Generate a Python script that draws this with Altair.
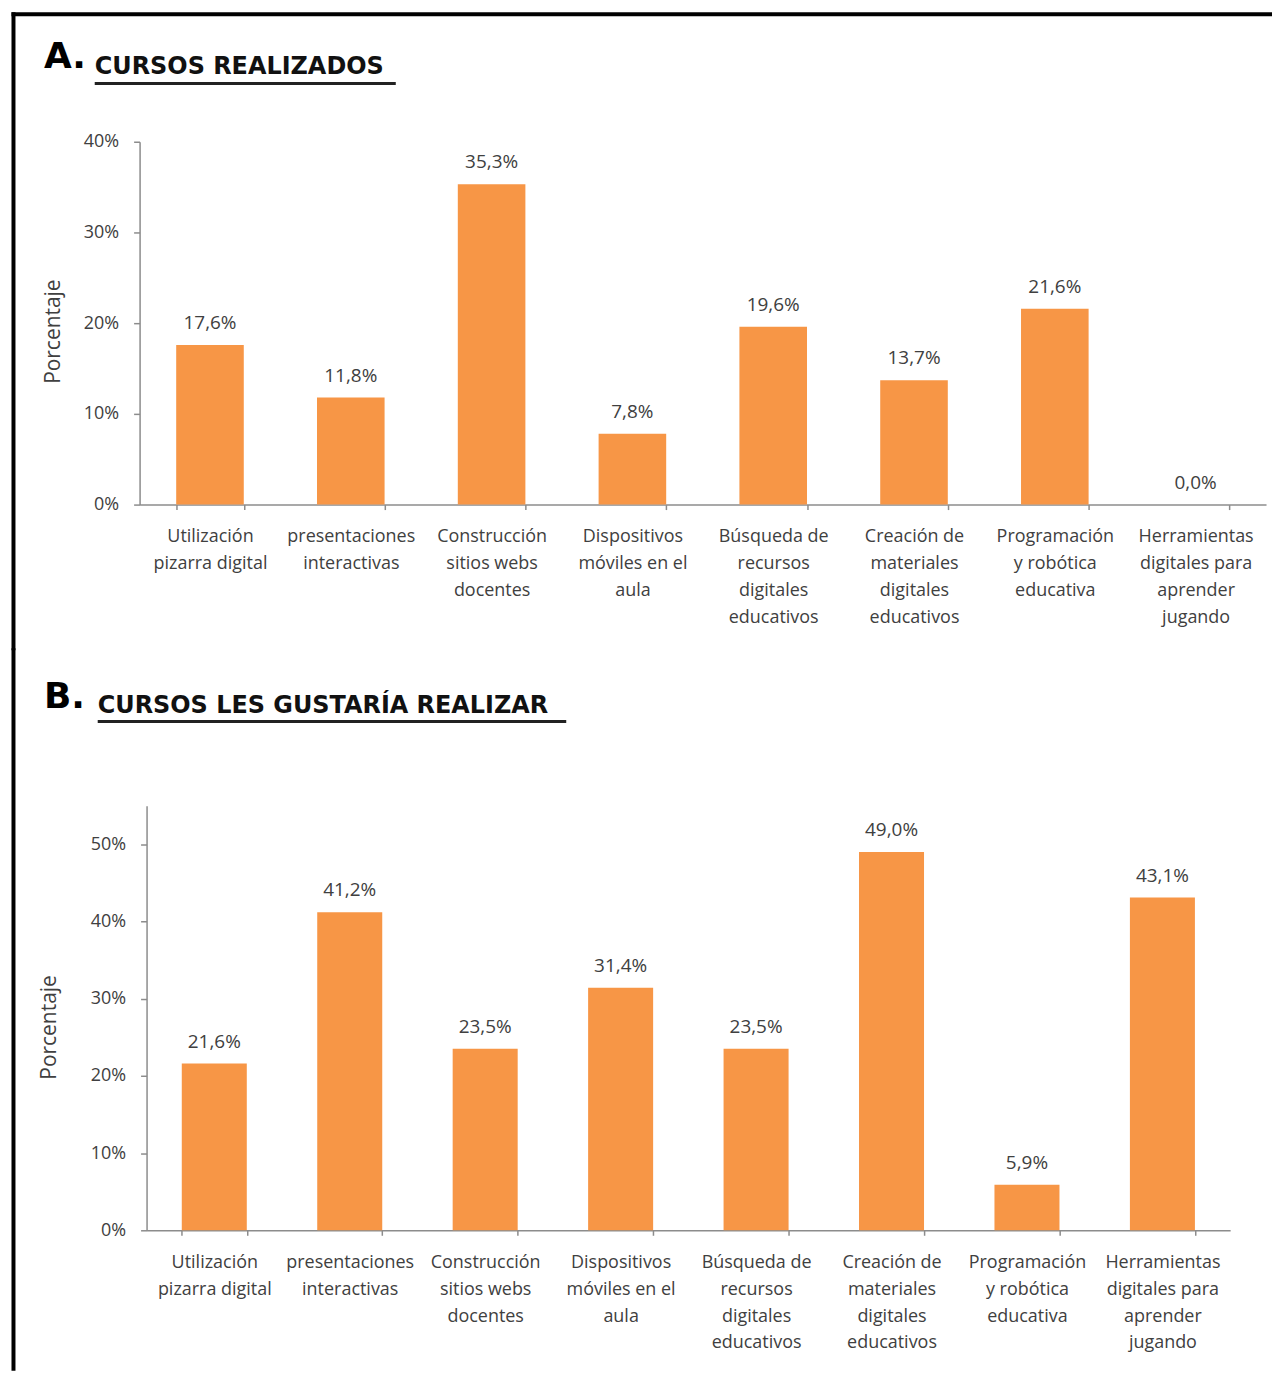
import altair as alt
import pandas as pd

# ---- data -------------------------------------------------------------
categories = [
    "Utilización|pizarra digital",
    "presentaciones|interactivas",
    "Construcción|sitios webs|docentes",
    "Dispositivos|móviles en el|aula",
    "Búsqueda de|recursos|digitales|educativos",
    "Creación de|materiales|digitales|educativos",
    "Programación|y robótica|educativa",
    "Herramientas|digitales para|aprender|jugando",
]
realizados = [17.6, 11.8, 35.3, 7.8, 19.6, 13.7, 21.6, 0.0]
gustaria = [21.6, 41.2, 23.5, 31.4, 23.5, 49.0, 5.9, 43.1]
ticks_a = [0, 10, 20, 30, 40]
ticks_b = [0, 10, 20, 30, 40, 50]
title_a = ["A.", "CURSOS REALIZADOS"]
title_b = ["B.", "CURSOS LES GUSTARÍA REALIZAR"]
y_title = "Porcentaje"

ORANGE = "#F79646"
TEXT = "#404040"
AXIS = "#8C8C8C"
FONT = "Open Sans"
TFONT = "DejaVu Sans"


def fmt(v):
    return f"{v:.1f}".replace(".", ",") + "%"


def panel(values, ticks, ymax, width, height, titles, geom):
    df = pd.DataFrame({"cat": categories, "val": values,
                       "lab": [fmt(v) for v in values]})
    x = alt.X("cat:N", sort=categories,
              scale=alt.Scale(paddingInner=0.52, paddingOuter=0.26,
                              range=[geom["x0"], width]),
              axis=alt.Axis(title=None, labelAngle=0,
                            labelExpr="split(datum.label, '|')",
                            labelLineHeight=27, labelFont=FONT,
                            labelFontSize=18, labelColor=TEXT,
                            labelPadding=18, labelLimit=0,
                            tickBand="extent", tickSize=5,
                            tickColor=AXIS, domainColor=AXIS,
                            tickWidth=1.5, domainWidth=1.5))
    y = alt.Y("val:Q",
              scale=alt.Scale(domain=[0, ymax], nice=False),
              axis=alt.Axis(values=ticks, labelExpr="datum.value + '%'",
                            grid=False, tickSize=6, tickColor=AXIS,
                            domainColor=AXIS, tickWidth=1.5,
                            domainWidth=1.5, labelFont=FONT,
                            labelFontSize=18, labelColor=TEXT,
                            labelPadding=15, title=y_title,
                            offset=-geom["x0"],
                            titleFont=FONT, titleFontSize=21,
                            titleFontWeight="normal", titleColor=TEXT,
                            titleX=geom["tx"], titleY=geom["ty"],
                            titleAlign="center", titleBaseline="middle"))
    bars = alt.Chart(df).mark_bar(color=ORANGE).encode(x=x, y=y)
    labels = alt.Chart(df).mark_text(
        font=FONT, fontSize=19, color=TEXT, baseline="alphabetic", dy=-16
    ).encode(x=x, y=y, text="lab:N")

    one = pd.DataFrame({"t": [titles[0]]})
    two = pd.DataFrame({"t": [titles[1]]})
    letter = alt.Chart(one).mark_text(
        font=TFONT, fontSize=36, fontWeight="bold", color="#000000",
        align="left", baseline="alphabetic"
    ).encode(x=alt.value(geom["lx"]), y=alt.value(geom["ly"]), text="t:N")
    heading = alt.Chart(two).mark_text(
        font=TFONT, fontSize=24, fontWeight="bold", color="#111111",
        align="left", baseline="alphabetic"
    ).encode(x=alt.value(geom["hx"]), y=alt.value(geom["hy"]), text="t:N")
    underline = alt.Chart(two).mark_rule(color="#222222", strokeWidth=3).encode(
        x=alt.value(geom["hx"]), x2=alt.value(geom["ux2"]),
        y=alt.value(geom["uy"]), y2=alt.value(geom["uy"]))
    layers = [bars, labels, letter, heading, underline]
    left = alt.Chart(two).mark_rule(color="#000000", strokeWidth=4,
                                    strokeCap="square").encode(
        x=alt.value(geom["bx"]), x2=alt.value(geom["bx"]),
        y=alt.value(geom["by1"]), y2=alt.value(geom["by2"]))
    layers.append(left)
    if "topx2" in geom:
        top = alt.Chart(two).mark_rule(color="#000000", strokeWidth=4,
                                       strokeCap="square").encode(
            x=alt.value(geom["bx"]), x2=alt.value(geom["topx2"]),
            y=alt.value(geom["by1"]), y2=alt.value(geom["by1"]))
        layers.append(top)
    return alt.layer(*layers).properties(width=width, height=height)


# panel A: plot area starts at page x 138, y 140
geom_a = dict(x0=0, tx=-86, ty=190, lx=-96, ly=-74, hx=-45, hy=-68, ux2=257,
              uy=-58.5, bx=-126.5, by1=-128, by2=508, topx2=1134)
# panel B: plot area starts at page x 138 (axis drawn at 145), y 805
geom_b = dict(x0=7, tx=-97.5, ty=222, lx=-96, ly=-98, hx=-42, hy=-93, ux2=428,
              uy=-84.5, bx=-126.5, by1=-156, by2=565)

chart_a = panel(realizados, ticks_a, 40, 1130, 364, title_a, geom_a)
chart_b = panel(gustaria, ticks_b, 55, 1094, 426, title_b, geom_b)

chart = alt.concat(chart_a, chart_b, columns=1, spacing=-4).properties(
    padding={"left": 2, "top": 1, "right": 0, "bottom": 0},
).configure_view(stroke=None)

chart.save("out.html", embed_options={"renderer": "svg", "actions": False})
